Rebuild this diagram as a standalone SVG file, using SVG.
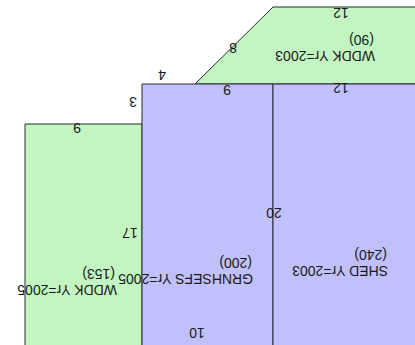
<svg xmlns="http://www.w3.org/2000/svg" width="415" height="345" viewBox="0 0 415 345">
<style>
.g{fill:#c2f5c2;stroke:#2a2a2a;stroke-width:1}
.b{fill:#c0c0fc;stroke:#2a2a2a;stroke-width:1}
text{font-family:"Liberation Sans",Arial,sans-serif;font-size:14px;fill:#1a1a1a}
.m{text-anchor:middle}
</style>
<rect width="415" height="345" fill="#ffffff"/>
<g id="wddk2003"><polygon class="g" points="273,7 420,7 420,84 195,84"/></g>
<g id="wddk2005"><polygon class="g" points="25,124 142,124 142,350 25,350"/></g>
<g id="grnhsefs"><polygon class="b" points="142,84 273,84 273,350 142,350"/></g>
<g id="shed"><polygon class="b" points="273,84 420,84 420,350 273,350"/></g>
<g transform="rotate(180 207.5 172.5)">
<text class="m" x="74" y="337">12</text>
<text class="m" x="182" y="302">8</text>
<text class="m" x="253" y="275">4</text>
<text class="m" x="282" y="248">3</text>
<text class="m" x="188" y="260">9</text>
<text class="m" x="74" y="262">12</text>
<text class="m" x="338" y="222">9</text>
<text class="m" x="285" y="117">17</text>
<text class="m" x="141" y="137">20</text>
<text class="m" x="218" y="17">10</text>
<text x="40" y="294.5">WDDK Yr=2003</text>
<text x="41" y="310.5">(90)</text>
<text x="27" y="79.5">SHED Yr=2003</text>
<text x="28" y="95.5">(240)</text>
<text x="162" y="71.5">GRNHSEFS Yr=2005</text>
<text x="163" y="87.5">(200)</text>
<text x="298" y="60.5">WDDK Yr=2005</text>
<text x="300" y="76.5">(153)</text>
</g>
</svg>
